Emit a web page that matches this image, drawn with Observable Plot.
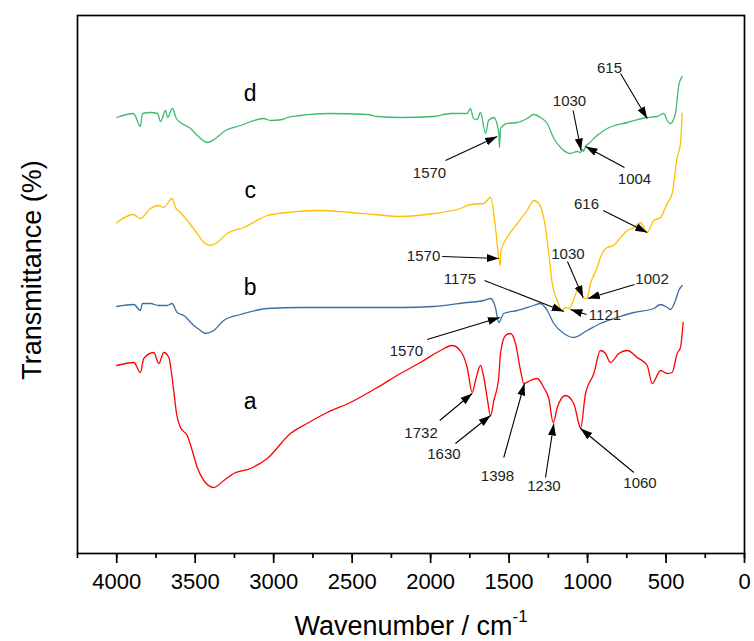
<!DOCTYPE html>
<html>
<head>
<meta charset="utf-8">
<script src="https://cdn.jsdelivr.net/npm/d3@7"></script>
<script src="https://cdn.jsdelivr.net/npm/@observablehq/plot@0.6"></script>
<style>
  html, body { margin: 0; padding: 0; background: #fff; }
</style>
</head>
<body>
<div id="chart"></div>
<script>
// ---- data (wavenumber in cm^-1, transmittance in arbitrary offset units) ----
const xTicks = [4000, 3500, 3000, 2500, 2000, 1500, 1000, 500, 0];

const aWn = [4000,3891,3849,3828,3764,3732,3700,3668,3653,3637,3619,3594,3551,3519,3487,3445,3382,3318,3254,3148,3041,2893,2787,2659,2511,2340,2192,2065,1937,1863,1799,1767,1735,1714,1682,1661,1640,1618,1597,1566,1555,1523,1491,1459,1427,1406,1364,1321,1279,1247,1219,1193,1141,1088,1056,1045,1013,960,918,886,854,801,747,684,620,588,535,493,461,429,408,391];
const aT  = [188,191,181,195,201,190,201,196,183,163,140,126,118,103,86,73,66,73,80,85,95,120,130,141,151,166,180,191,203,208,200,186,161,173,188,176,156,138,153,176,200,218,220,210,183,170,173,175,166,155,131,146,158,150,130,125,160,180,203,200,191,200,203,196,188,170,183,180,181,200,206,231];

const bWn = [4000,3891,3849,3836,3785,3734,3679,3647,3615,3573,3509,3466,3435,3382,3318,3211,3041,2829,2404,2192,1980,1767,1661,1618,1587,1566,1534,1448,1343,1300,1257,1215,1151,1088,1002,918,833,705,578,535,493,472,440,419,397];
const bT  = [247,249,243,250,250,248,248,250,241,238,228,223,220,223,233,239,245,246,246,246,247,251,253,255,246,231,240,243,248,250,243,230,220,216,223,230,235,241,245,249,246,244,253,263,268];

const cWn = [4000,3893,3849,3785,3734,3702,3647,3626,3594,3541,3487,3445,3403,3360,3296,3190,3041,2914,2723,2511,2364,2192,1980,1810,1746,1661,1618,1587,1566,1555,1552,1512,1448,1385,1343,1311,1268,1247,1225,1193,1162,1141,1120,1098,1066,1045,1028,1018,1002,981,939,918,875,833,790,747,705,663,620,578,535,493,461,429,408,397];
const cT  = [331,339,335,345,348,346,355,346,341,331,320,311,308,311,320,326,338,341,343,341,339,337,340,345,349,350,356,326,296,288,303,316,330,343,353,350,326,300,270,253,243,246,245,250,263,266,256,255,256,270,286,296,306,308,316,323,326,331,321,333,336,350,360,396,410,440];

const dWn = [4000,3893,3849,3836,3785,3740,3721,3689,3676,3645,3620,3594,3562,3530,3486,3422,3371,3307,3211,3065,3020,2944,2912,2829,2657,2402,2339,2192,1982,1873,1767,1746,1727,1703,1682,1650,1631,1597,1566,1561,1555,1512,1448,1385,1343,1300,1257,1215,1172,1109,1066,1045,1034,1026,1013,992,939,875,747,620,556,514,493,472,440,419,397];
const dT  = [436,440,427,440,441,440,432,443,436,445,435,431,428,425,418,411,415,423,428,435,433,434,436,438,440,439,437,436,437,440,440,445,435,434,441,420,433,436,421,406,425,430,431,435,439,436,430,415,406,400,402,401,404,402,407,410,418,425,431,436,437,440,433,430,440,468,477];

const seriesNames  = ["a", "b", "c", "d"];
const seriesColors = ["#ff0000", "#3b6ea5", "#ffbf00", "#3dbb6e"];
const seriesLabelWn = [3150, 3150, 3150, 3150];
const seriesLabelT  = [145, 259, 356, 453];

// peak annotations: label, label position, arrow tail, arrow tip
const annLabel = ["615","1030","1004","1570","616","1570","1030","1002","1175","1121","1570","1732","1630","1398","1230","1060"];
const annTextWn = [860,1115,701,2007,1007,2045,1125,589,1813,889,2154,2061,1915,1574,1278,666];
const annTextT  = [481,448,370,376,345,293,295,270,270,234,198,116,95,73,63,66];
const annTailWn = [790,1092,765,1905,900,1926,1128,701,1657,1007,2022,1942,1842,1534,1268,705];
const annTailT  = [480,443,386,393,343,297,292,269,273,239,214,133,110,96,76,81];
const annTipWn  = [620,1041,1013,1576,620,1566,1028,998,1151,1109,1559,1735,1618,1402,1215,1045];
const annTipT   = [435,403,407,417,321,295,256,255,242,244,236,160,138,170,130,125];

// ---- build tables ----
const seriesData = [[aWn,aT],[bWn,bT],[cWn,cT],[dWn,dT]].map(([w,t], i) =>
  w.map((wn, j) => ({wn, t: t[j], s: seriesNames[i]})));
const labels = seriesNames.map((s, i) => ({s, wn: seriesLabelWn[i], t: seriesLabelT[i]}));
const anns = annLabel.map((l, i) => ({
  l, tx: annTextWn[i], ty: annTextT[i],
  x1: annTailWn[i], y1: annTailT[i], x2: annTipWn[i], y2: annTipT[i]
}));

const font = "'Liberation Sans', Arial, Helvetica, sans-serif";

const chart = Plot.plot({
  width: 754,
  height: 641,
  marginLeft: 77,
  marginRight: 10,
  marginTop: 15,
  marginBottom: 88,
  style: {fontFamily: font, background: "#fff", color: "#000", overflow: "visible"},
  x: {domain: [4250, 0], label: null},
  y: {domain: [0, 538], axis: null},
  marks: [
    ...seriesData.map((d, i) => Plot.line(d, {x: "wn", y: "t", stroke: seriesColors[i], strokeWidth: 1.3, strokeLinejoin: "round", curve: "monotone-x"})),
    Plot.frame({stroke: "#000", strokeWidth: 1.7}),
    Plot.axisX({ticks: d3.range(0, 4251, 250), tickSize: 5, tickFormat: () => "", strokeWidth: 1.7, label: null}),
    Plot.axisX({ticks: xTicks, tickSize: 10, tickPadding: 10, fontSize: 22, strokeWidth: 1.7, label: null, tickFormat: d => String(d)}),
    Plot.text(labels, {x: "wn", y: "t", text: "s", fontSize: 23, textAnchor: "middle", lineAnchor: "bottom", fill: "#000"}),
    Plot.link(anns, {x1: "x1", y1: "y1", x2: "x2", y2: "y2", stroke: "#000", strokeWidth: 1.1, markerEnd: "arrow"}),
    Plot.text(anns, {x: "tx", y: "ty", text: "l", fontSize: 15, textAnchor: "middle", lineAnchor: "bottom", fill: "#222"})
  ]
});

// filled arrowheads
d3.select(chart).selectAll("marker")
  .attr("viewBox", "-12 -5 12 10")
  .attr("markerWidth", 12)
  .attr("markerHeight", 10)
  .attr("markerUnits", "userSpaceOnUse")
  .attr("refX", 0).attr("refY", 0)
  .attr("fill", "#000").attr("stroke", "none")
  .selectAll("path")
  .attr("d", "M-12,-4L0,0L-12,4Z")
  .attr("fill", "#000").attr("stroke", "none");

// axis titles
const svg = d3.select(chart);
const xl = svg.append("text")
  .attr("x", 411).attr("y", 635)
  .attr("text-anchor", "middle")
  .attr("font-family", font).attr("font-size", 27).attr("fill", "#000");
xl.append("tspan").text("Wavenumber / cm");
xl.append("tspan").attr("font-size", 17).attr("dy", -13).text("-1");

svg.append("text")
  .attr("transform", "translate(41,270) rotate(-90)")
  .attr("text-anchor", "middle")
  .attr("font-family", font).attr("font-size", 27).attr("fill", "#000")
  .text("Transmittance (%)");

document.getElementById("chart").append(chart);
</script>
</body>
</html>
